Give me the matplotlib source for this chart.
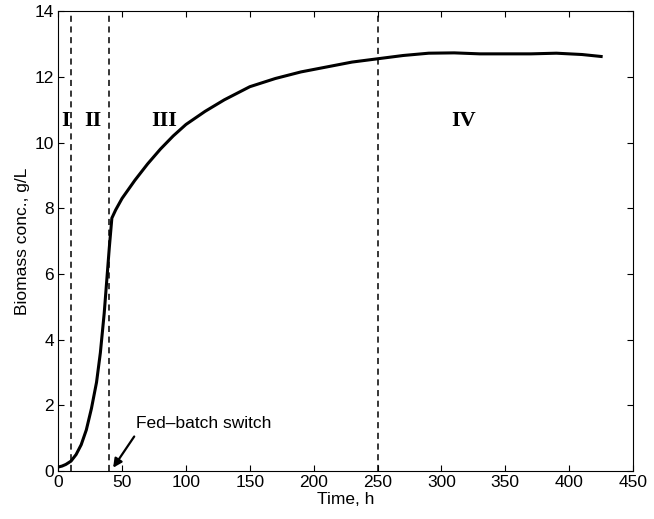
import numpy as np
import matplotlib.pyplot as plt

plt.rcParams['font.family'] = ['Liberation Sans', 'DejaVu Sans']

# biomass curve
time_h = [0, 3, 6, 10, 14, 18, 22, 26, 30, 33, 36, 38, 40, 42, 45, 50, 60, 70, 80, 90,
          100, 115, 130, 150, 170, 190, 210, 230, 250, 270, 290, 310, 330, 350, 370, 390, 410, 425]
biomass = [0.12, 0.15, 0.2, 0.3, 0.5, 0.8, 1.25, 1.9, 2.7, 3.6, 4.8, 5.8, 6.8, 7.7, 7.95, 8.3, 8.85, 9.35, 9.8, 10.2,
           10.55, 10.95, 11.3, 11.7, 11.95, 12.15, 12.3, 12.45, 12.55, 12.65, 12.72, 12.73, 12.7, 12.7, 12.7, 12.72, 12.68, 12.62]

phase_bounds = [10, 40, 250]
phase_labels = ["I", "II", "III", "IV"]
phase_label_x = [5.5, 27, 83, 317]
phase_label_y = 10.65

fig = plt.figure(figsize=(6.54, 5.19), dpi=100)
ax = fig.add_axes([0.089, 0.0925, 0.879, 0.886])

ax.plot(time_h, biomass, color="black", lw=2.2)
for b in phase_bounds:
    ax.axvline(b, color="black", ls=(0, (4, 3)), lw=1.1)
for lab, xl in zip(phase_labels, phase_label_x):
    ax.text(xl, phase_label_y, lab, ha="center", va="center", fontsize=16,
            fontweight="bold", family="Liberation Serif")

# fed-batch switch note
ax.text(61, 1.45, "Fed\u2013batch switch", fontsize=12.5, ha="left", va="center")
ax.annotate("", xy=(43, 0.1), xytext=(59.5, 1.05),
            arrowprops=dict(arrowstyle="-|>", color="black", lw=1.6,
                            shrinkA=0, shrinkB=0, mutation_scale=13))

ax.set_xlim(0, 450)
ax.set_ylim(0, 14)
ax.set_xticks(np.arange(0, 451, 50))
ax.set_yticks(np.arange(0, 15, 2))
ax.tick_params(direction="in", top=True, right=True, labelsize=12.5, length=4, pad=3)
ax.set_xlabel("Time, h", fontsize=12.5, labelpad=1)
ax.set_ylabel("Biomass conc., g/L", fontsize=12.5, labelpad=3)

fig.savefig("out.png", dpi=100)
